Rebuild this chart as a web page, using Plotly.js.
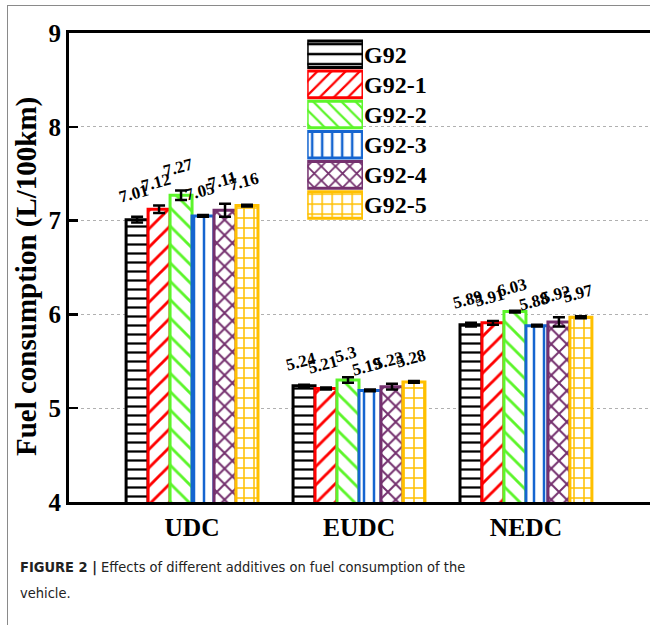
<!DOCTYPE html>
<html>
<head>
<meta charset="utf-8">
<script src="https://cdn.plot.ly/plotly-3.0.1.min.js"></script>
<style>
  html, body { margin: 0; padding: 0; background: #fff; }
  #wrap { position: relative; width: 650px; height: 625px; overflow: hidden; }
  #chart { position: absolute; left: 0; top: 0; width: 650px; height: 625px; }
  #frame { position: absolute; left: 7px; top: 5px; width: 700px; height: 700px;
           border-top: 1.5px solid #8a8a8a; border-left: 1.5px solid #8a8a8a; pointer-events: none; }
</style>
</head>
<body>
<div id="wrap">
  <div id="chart"></div>
  <div id="frame"></div>
</div>
<script>
// ---- data ----
const categories = ["UDC", "EUDC", "NEDC"];
const seriesNames = ["G92", "G92-1", "G92-2", "G92-3", "G92-4", "G92-5"];
const g92   = [7.01, 5.24, 5.89];
const g92_1 = [7.12, 5.21, 5.91];
const g92_2 = [7.27, 5.30, 6.03];
const g92_3 = [7.05, 5.19, 5.88];
const g92_4 = [7.11, 5.23, 5.92];
const g92_5 = [7.16, 5.28, 5.97];
const err_g92   = [0.03, 0.01, 0.02];
const err_g92_1 = [0.04, 0.01, 0.02];
const err_g92_2 = [0.05, 0.03, 0.01];
const err_g92_3 = [0.01, 0.01, 0.01];
const err_g92_4 = [0.07, 0.03, 0.05];
const err_g92_5 = [0.01, 0.01, 0.01];
const labels_g92   = ["7.01", "5.24", "5.89"];
const labels_g92_1 = ["7.12", "5.21", "5.91"];
const labels_g92_2 = ["7.27", "5.3", "6.03"];
const labels_g92_3 = ["7.05", "5.19", "5.88"];
const labels_g92_4 = ["7.11", "5.23", "5.92"];
const labels_g92_5 = ["7.16", "5.28", "5.97"];
const yTickVals = [4, 5, 6, 7, 8, 9];
const yTitle = "Fuel consumption (L/100km)";

// ---- styles ----
const values = [g92, g92_1, g92_2, g92_3, g92_4, g92_5];
const errs = [err_g92, err_g92_1, err_g92_2, err_g92_3, err_g92_4, err_g92_5];
const labels = [labels_g92, labels_g92_1, labels_g92_2, labels_g92_3, labels_g92_4, labels_g92_5];
const colors = ["#000000", "#ff0000", "#5cf52a", "#1565d0", "#74306e", "#ffc000"];
const shapes = ["-", "/", "\\", "|", "x", "+"];
const psizes = [9, 13, 13, 10, 11, 10];
const psolid = [0.25, 0.22, 0.22, 0.25, 0.33, 0.28];
const serif = "Times New Roman, Liberation Serif, serif";
const bargap = 0.21;

const traces = [];
values.forEach((v, i) => {
  traces.push({
    type: "bar",
    name: seriesNames[i],
    x: categories,
    y: v,
    xaxis: "x", yaxis: "y",
    marker: {
      color: "#ffffff",
      line: { color: colors[i], width: 3 },
      pattern: { shape: shapes[i], fgcolor: colors[i], bgcolor: "#ffffff", fgopacity: 1, size: psizes[i], solidity: psolid[i], fillmode: "replace" }
    },
    error_y: { type: "data", array: errs[i], visible: true, color: "#000", thickness: 2.5, width: 6 },
    showlegend: false,
    hoverinfo: "x+y+name"
  });
});

// legend drawn as a small bar subplot with the same patterns
traces.push({
  type: "bar",
  orientation: "h",
  x: seriesNames.map(() => 1),
  y: seriesNames,
  width: 0.88,
  xaxis: "x2", yaxis: "y2",
  marker: {
    color: "#ffffff",
    line: { color: colors, width: 3 },
    pattern: { shape: shapes, fgcolor: colors, bgcolor: "#ffffff", fgopacity: 1, size: 10, solidity: psolid, fillmode: "replace" }
  },
  showlegend: false,
  hoverinfo: "y"
});

// value label annotations
const annotations = [];
const slot = (1 - bargap) / seriesNames.length;
values.forEach((v, i) => {
  v.forEach((val, j) => {
    annotations.push({
      x: j + (i - (seriesNames.length - 1) / 2) * slot,
      y: val + errs[i][j],
      xref: "x", yref: "y",
      text: "<b>" + labels[i][j] + "</b>",
      showarrow: false,
      textangle: -15,
      xanchor: "center", yanchor: "middle",
      yshift: 23, xshift: -3,
      font: { family: serif, size: 17, color: "#000" }
    });
  });
});

// y-axis title
annotations.push({
  xref: "paper", yref: "paper", x: -0.072, y: 0.48, xanchor: "center", yanchor: "middle",
  text: "<b>" + yTitle + "</b>", textangle: -90, showarrow: false,
  font: { family: serif, size: 29, color: "#000" }
});

// caption
const capFont = { family: "Liberation Sans Narrow, DejaVu Sans Condensed, Roboto, sans-serif", size: 14.5, color: "#222" };
annotations.push({
  xref: "paper", yref: "paper", x: -0.0878, y: -0.1386, xanchor: "left", yanchor: "middle",
  text: "<b>FIGURE 2 |</b> Effects of different additives on fuel consumption of the",
  showarrow: false, font: capFont, align: "left"
});
annotations.push({
  xref: "paper", yref: "paper", x: -0.0878, y: -0.194, xanchor: "left", yanchor: "middle",
  text: "vehicle.",
  showarrow: false, font: capFont, align: "left"
});

const layout = {
  width: 650, height: 625,
  margin: { l: 69, r: 0, t: 33, b: 123 },
  paper_bgcolor: "#ffffff", plot_bgcolor: "#ffffff",
  font: { family: serif, color: "#000" },
  barmode: "group", bargap: bargap, bargroupgap: 0,
  showlegend: false,
  xaxis: {
    type: "category", categoryorder: "array", categoryarray: categories,
    tickvals: categories, ticktext: categories.map(c => "<b>" + c + "</b>"),
    range: [-0.737, 2.743],
    showline: true, linecolor: "#000", linewidth: 3, mirror: true,
    ticks: "", showgrid: false, zeroline: false,
    tickfont: { family: serif, size: 25.5, color: "#000" }
  },
  yaxis: {
    range: [4, 9], tickvals: yTickVals, ticktext: yTickVals.map(v => "<b>" + v + "</b>"),
    showline: true, linecolor: "#000", linewidth: 3, mirror: false,
    ticks: "inside", ticklen: 9, tickwidth: 2.5, tickcolor: "#000",
    showgrid: true, gridcolor: "#b0b0b0", gridwidth: 1, griddash: "dot",
    zeroline: false,
    tickfont: { family: serif, size: 25, color: "#000" },
    automargin: false
  },
  xaxis2: {
    domain: [0.41, 0.506], range: [0, 1], anchor: "y2",
    showline: false, showgrid: false, zeroline: false, showticklabels: false, ticks: "", fixedrange: true
  },
  yaxis2: {
    domain: [0.601, 0.987], anchor: "x2", side: "right",
    type: "category", categoryorder: "array", categoryarray: seriesNames, autorange: "reversed",
    tickvals: seriesNames, ticktext: seriesNames.map(s => "<b>" + s + "</b>"),
    showline: false, showgrid: false, zeroline: false, ticks: "",
    tickfont: { family: serif, size: 24, color: "#000" },
    fixedrange: true
  },
  annotations: annotations
};

Plotly.newPlot("chart", traces, layout, { displayModeBar: false, staticPlot: true });
</script>
</body>
</html>
